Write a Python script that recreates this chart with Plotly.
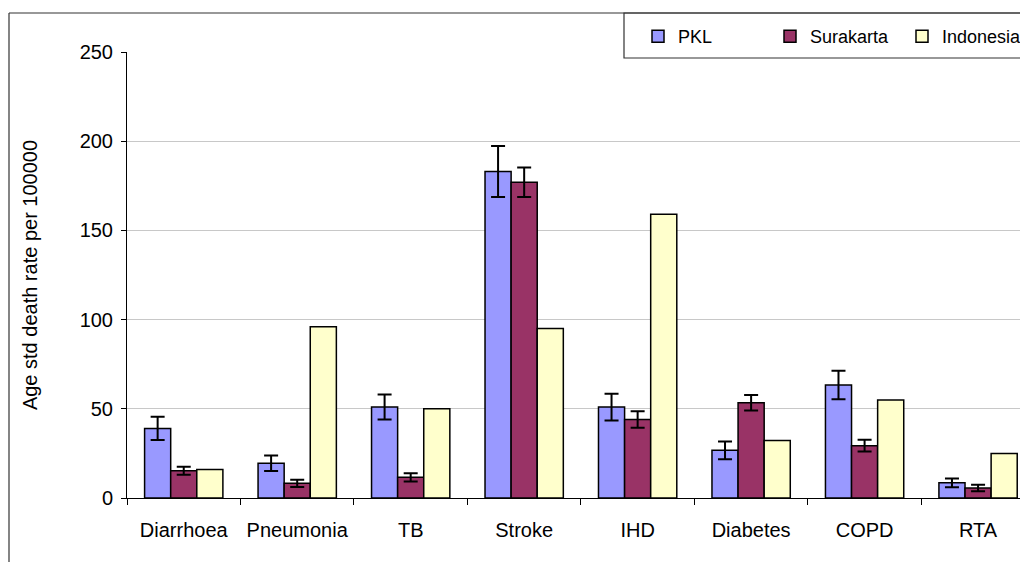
import plotly.graph_objects as go

categories = ["Diarrhoea", "Pneumonia", "TB", "Stroke", "IHD", "Diabetes", "COPD", "RTA"]
pkl = [39, 19.5, 51, 183, 51, 26.7, 63.3, 8.5]
pkl_err = [6.5, 4.3, 7, 14.3, 7.5, 5, 8, 2.5]
surakarta = [15.3, 8.2, 11.6, 177, 44, 53.4, 29.3, 5.6]
surakarta_err = [2.2, 2, 2.3, 8.3, 4.6, 4.3, 3.3, 1.8]
indonesia = [16, 96, 50, 95, 159, 32.3, 55, 25]

# page body has an 8px margin, so the figure is drawn 8px right/down
W, H = 1020, 554
L, R, T, B = 119, 0, 44, 64
pw, ph = W - L - R, H - T - B

def px(x):
    return (x - L) / pw

def py(y):
    return (H - B - y) / ph

font = "Liberation Sans, Arial, sans-serif"
line = dict(color="black", width=1.5)
err = dict(thickness=2, width=7, color="black")

fig = go.Figure()
fig.add_bar(name="PKL", x=categories, y=pkl, marker=dict(color="#9999FF", line=line),
            error_y=dict(type="data", array=pkl_err, **err))
fig.add_bar(name="Surakarta", x=categories, y=surakarta, marker=dict(color="#993366", line=line),
            error_y=dict(type="data", array=surakarta_err, **err))
fig.add_bar(name="Indonesia", x=categories, y=indonesia, marker=dict(color="#FFFFCC", line=line))

fig.update_layout(
    width=W, height=H,
    margin=dict(l=L, r=R, t=T, b=B, autoexpand=False),
    paper_bgcolor="white", plot_bgcolor="white",
    font=dict(family=font, size=20, color="black"),
    barmode="group", bargap=0.31, bargroupgap=0,
    showlegend=True,
    legend=dict(orientation="h", x=px(630), y=py(10), xanchor="left", yanchor="top",
                font=dict(size=18), entrywidth=87, bgcolor="rgba(0,0,0,0)",
                borderwidth=0, traceorder="normal"),
    xaxis=dict(range=[-0.5, 7.44], showline=True, linecolor="black", linewidth=1,
               ticks="outside", tickson="boundaries", ticklen=6, tickcolor="black",
               ticklabelstandoff=14, tickfont=dict(size=20), showgrid=False),
    yaxis=dict(range=[0, 250], tickvals=[0, 50, 100, 150, 200, 250], showline=True,
               linecolor="black", linewidth=1, ticks="outside", ticklen=5, tickcolor="black",
               showgrid=True, gridcolor="#C8C8C8", gridwidth=1, zeroline=False,
               ticklabelstandoff=4, tickfont=dict(size=20),
               title=dict(text="Age std death rate per 100000", font=dict(size=20), standoff=36)),
    shapes=[
        dict(type="line", xref="paper", yref="paper", x0=px(1), x1=px(1030), y0=py(5), y1=py(5),
             line=dict(color="#333333", width=1.2)),
        dict(type="line", xref="paper", yref="paper", x0=px(1), x1=px(1), y0=py(5), y1=py(560),
             line=dict(color="#333333", width=1.2)),
        dict(type="rect", xref="paper", yref="paper", x0=px(616), x1=px(1030), y0=py(50), y1=py(5),
             line=dict(color="#333333", width=1.2), fillcolor="white", layer="below"),
    ],
)

fig.write_html("out.html")
